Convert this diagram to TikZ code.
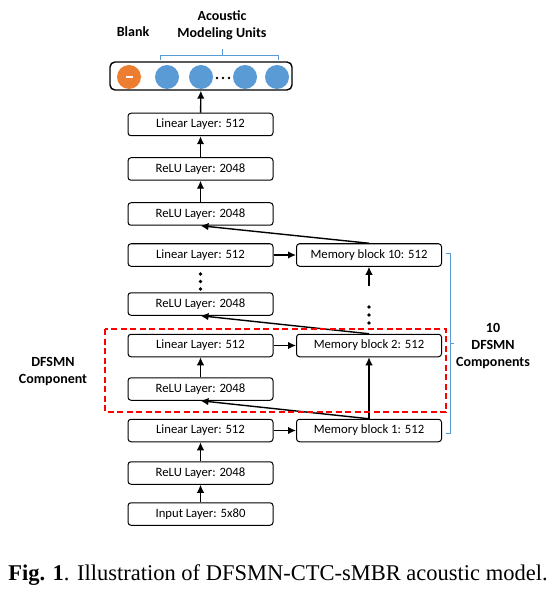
\documentclass[tikz,border=0pt]{standalone}
\usepackage{fontspec}
\setmainfont{Carlito}
\newfontfamily\capfont{Liberation Serif}
\usetikzlibrary{arrows.meta}
\definecolor{unitblue}{HTML}{5B9BD5}
\definecolor{blankorange}{HTML}{ED7D31}

\begin{document}
\begin{tikzpicture}[x=1pt,y=-1pt,
    layer/.style={draw,line width=1pt,rounded corners=3pt,minimum width=145pt,
      minimum height=22.5pt,inner sep=0pt,font=\fontsize{12.7}{14}\selectfont},
    flow/.style={line width=1.4pt,-{Latex[length=8pt,width=7.5pt]}},
    lbl/.style={font=\bfseries\fontsize{14}{17}\selectfont,align=center}]
    \useasboundingbox (0,0) rectangle (554,593);
        % Linker kolom
        \node[layer] (inp)    at (200.5,514) {Input Layer: 5x80};
        \node[layer] (relu1)  at (200.5,473) {ReLU Layer: 2048};
        \node[layer] (lin1)   at (200.5,430.5) {Linear Layer: 512};
        \node[layer] (relu2)  at (200.5,389) {ReLU Layer: 2048};
        \node[layer] (lin2)   at (200.5,345.5) {Linear Layer: 512};
        \node[layer] (relu3)  at (200.5,304) {ReLU Layer: 2048};
        \node[layer] (lin10)  at (200.5,255) {Linear Layer: 512};
        \node[layer] (relu11) at (200.5,214) {ReLU Layer: 2048};
        \node[layer] (relu12) at (200.5,169) {ReLU Layer: 2048};
        \node[layer] (linout) at (200.5,124.5) {Linear Layer: 512};
        % Memory blocks
        \node[layer] (mem1)  at (369,430.5) {Memory block 1: 512};
        \node[layer] (mem2)  at (369,345.5) {Memory block 2: 512};
        \node[layer] (mem10) at (369,255) {Memory block 10: 512};
        % Uitvoerlaag
        \node[draw,line width=1.4pt,rounded corners=5pt,minimum width=182pt,minimum height=28pt] (out) at (201,76) {};
        \fill[blankorange] (129,77) circle (12pt);
        \draw[white,line width=2pt] (125.5,77) -- (132.5,77);
        \foreach \cx in {167,201,245,277}
            \fill[unitblue] (\cx,77) circle (12pt);
        \foreach \cx in {217,223,229}
            \fill (\cx,78) circle (1.3pt);
        % Pijlen
        \draw[flow] (inp) -- (relu1);
        \draw[flow] (relu1) -- (lin1);
        \draw[flow] (lin1) -- (mem1);
        \draw[flow] (mem1) -- (mem2);
        \draw[flow] (mem1.north) -- (relu2.south);
        \draw[flow] (relu2) -- (lin2);
        \draw[flow] (lin2) -- (mem2);
        \draw[flow] (mem2.north) -- (relu3.south);
        \draw[flow] (lin10) -- (mem10);
        \coordinate (memgap) at (369,286);
        \draw[flow] (memgap) -- (mem10);
        \draw[flow] (mem10.north) -- (relu11.south);
        \draw[flow] (relu11) -- (relu12);
        \draw[flow] (relu12) -- (linout);
        \draw[flow] (linout) -- (out);
        % Puntjes
        \foreach \cy in {274,281.5,289}
            \fill (200.5,\cy) circle (1.8pt);
        \foreach \cy in {307,315,323}
            \fill (369,\cy) circle (1.8pt);
        % DFSMN component (stippelkader)
        \draw[red,line width=1.8pt,dash pattern=on 6pt off 3.5pt] (105,329) rectangle (446,412);
        % Haken
        \draw[unitblue,line width=0.9pt] (446,253) -- (450,253) -- (450,433) -- (446,433);
        \draw[unitblue,line width=0.9pt] (450,343) -- (454,343);
        \draw[unitblue,line width=0.9pt] (160,60) -- (160,55) -- (278,55) -- (278,60);
        \draw[unitblue,line width=0.9pt] (222,55) -- (222,49);
        % Labels
        \node[lbl] (blank) at (133,32) {Blank};
        \node[lbl] (units) at (222,25.5) {Acoustic\\Modeling Units};
        \node[lbl] (ncomp) at (493,346) {10\\DFSMN\\Components};
        \node[lbl] (comp) at (53,371.5) {DFSMN\\Component};
        \node[font=\capfont\fontsize{22.5}{26}\selectfont] (cap) at (278,575)
            {\textbf{Fig. 1}. Illustration of DFSMN-CTC-sMBR acoustic model.};
\end{tikzpicture}
\end{document}
